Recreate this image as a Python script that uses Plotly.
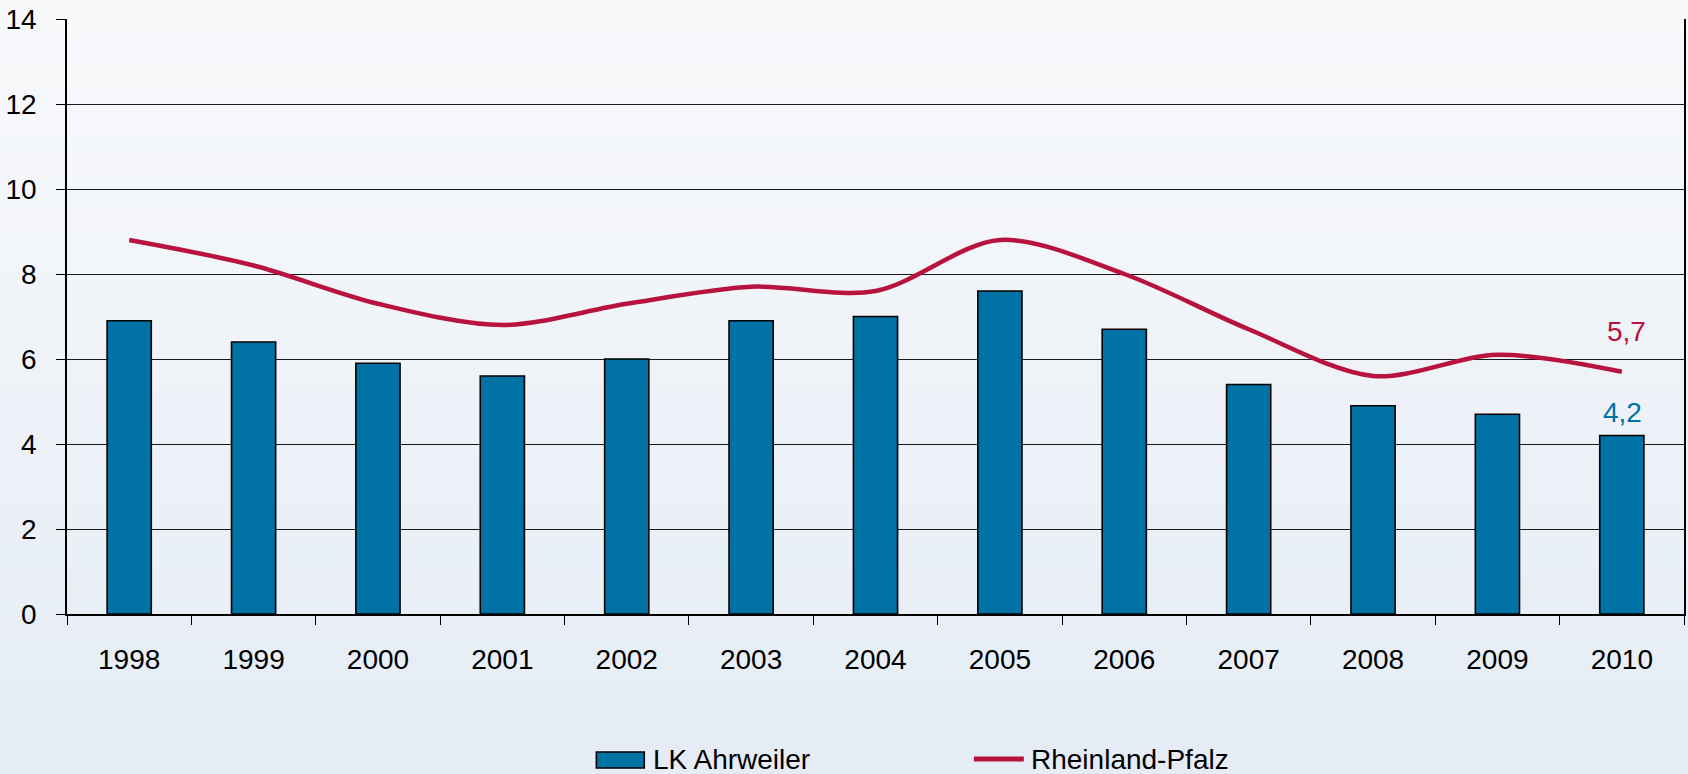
import plotly.graph_objects as go

years = ["1998", "1999", "2000", "2001", "2002", "2003", "2004", "2005", "2006", "2007", "2008", "2009", "2010"]
lk_ahrweiler = [6.9, 6.4, 5.9, 5.6, 6.0, 6.9, 7.0, 7.6, 6.7, 5.4, 4.9, 4.7, 4.2]
rheinland_pfalz = [8.8, 8.2, 7.3, 6.8, 7.3, 7.7, 7.6, 8.8, 8.0, 6.7, 5.6, 6.1, 5.7]
tick_vals = [0, 2, 4, 6, 8, 10, 12, 14]
series_names = ["LK Ahrweiler", "Rheinland-Pfalz"]

BLUE = "#0072A3"
RED = "#B8133F"
FONT = "Liberation Sans, Arial, sans-serif"

W, H = 1688, 774
ML, MR, MT, MB = 67, 2, 19, 160
PW, PH = W - ML - MR, H - MT - MB


def px_x(x):
    return (x - ML) / PW


def px_y(y):
    return (H - MB - y) / PH


fig = go.Figure()
fig.add_trace(go.Bar(
    x=years, y=lk_ahrweiler, name=series_names[0],
    marker=dict(color=BLUE, line=dict(color="#000000", width=1.6)),
))
fig.add_trace(go.Scatter(
    x=years, y=rheinland_pfalz, name=series_names[1], mode="lines",
    line=dict(color=RED, width=4.5, shape="spline", smoothing=0.9),
))

# gradient background
top = (248, 249, 251)
bot = (229, 236, 245)
n = 60
shapes = []
for i in range(n):
    t = i / (n - 1)
    c = tuple(round(top[k] + (bot[k] - top[k]) * t) for k in range(3))
    y1 = px_y(-2 + (H + 4) * i / n)
    y0 = px_y(-2 + (H + 4) * (i + 1) / n + 1)
    shapes.append(dict(type="rect", xref="paper", yref="paper", x0=px_x(-5), x1=px_x(W + 5),
                       y0=y0, y1=y1, fillcolor="rgb(%d,%d,%d)" % c,
                       line=dict(width=0), layer="below"))

# custom legend
shapes.append(dict(type="rect", xref="paper", yref="paper",
                   x0=px_x(597), x1=px_x(645), y0=px_y(768), y1=px_y(752),
                   fillcolor=BLUE, line=dict(color="#000000", width=1.6), layer="above"))
shapes.append(dict(type="line", xref="paper", yref="paper",
                   x0=px_x(975), x1=px_x(1025), y0=px_y(759), y1=px_y(759),
                   line=dict(color=RED, width=5), layer="above"))

last = len(years) - 1
annotations = [
    dict(x=last, y=rheinland_pfalz[-1], text=f"{rheinland_pfalz[-1]:.1f}".replace(".", ","),
         showarrow=False, yshift=40, xshift=5, font=dict(size=28, color=RED, family=FONT)),
    dict(x=last, y=lk_ahrweiler[-1], text=f"{lk_ahrweiler[-1]:.1f}".replace(".", ","),
         showarrow=False, yshift=23, xshift=1, font=dict(size=28, color=BLUE, family=FONT)),
    dict(xref="paper", yref="paper", x=px_x(652), y=px_y(759), xanchor="left", yanchor="middle",
         text=series_names[0], showarrow=False, font=dict(size=28, color="#000000", family=FONT)),
    dict(xref="paper", yref="paper", x=px_x(1030), y=px_y(759), xanchor="left", yanchor="middle",
         text=series_names[1], showarrow=False, font=dict(size=28, color="#000000", family=FONT)),
]

fig.update_layout(
    width=W, height=H,
    margin=dict(l=ML, r=MR, t=MT, b=MB),
    paper_bgcolor="rgb(229,236,245)",
    plot_bgcolor="rgba(0,0,0,0)",
    font=dict(family=FONT, size=28, color="#000000"),
    bargap=0.645,
    showlegend=False,
    shapes=shapes,
    annotations=annotations,
)
fig.update_xaxes(
    type="category", range=[-0.5, len(years) - 0.5],
    showline=True, linecolor="#000000", linewidth=1.5,
    ticks="outside", tickson="boundaries", ticklen=9, tickcolor="#000000", tickwidth=1.2,
    showgrid=False, tickfont=dict(size=28), ticklabelstandoff=20, tickangle=0,
)
fig.update_yaxes(
    range=[0, 14], tickvals=tick_vals, showline=True, mirror=True,
    linecolor="#000000", linewidth=1.5,
    ticks="outside", ticklen=9, tickcolor="#000000", tickwidth=1.2,
    showgrid=True, gridcolor="#1a1a1a", gridwidth=1.4, zeroline=False,
    tickfont=dict(size=28), ticklabelstandoff=14,
)

fig.write_html("out.html", config={"displayModeBar": False},
               post_script="document.body.style.margin='0';")
